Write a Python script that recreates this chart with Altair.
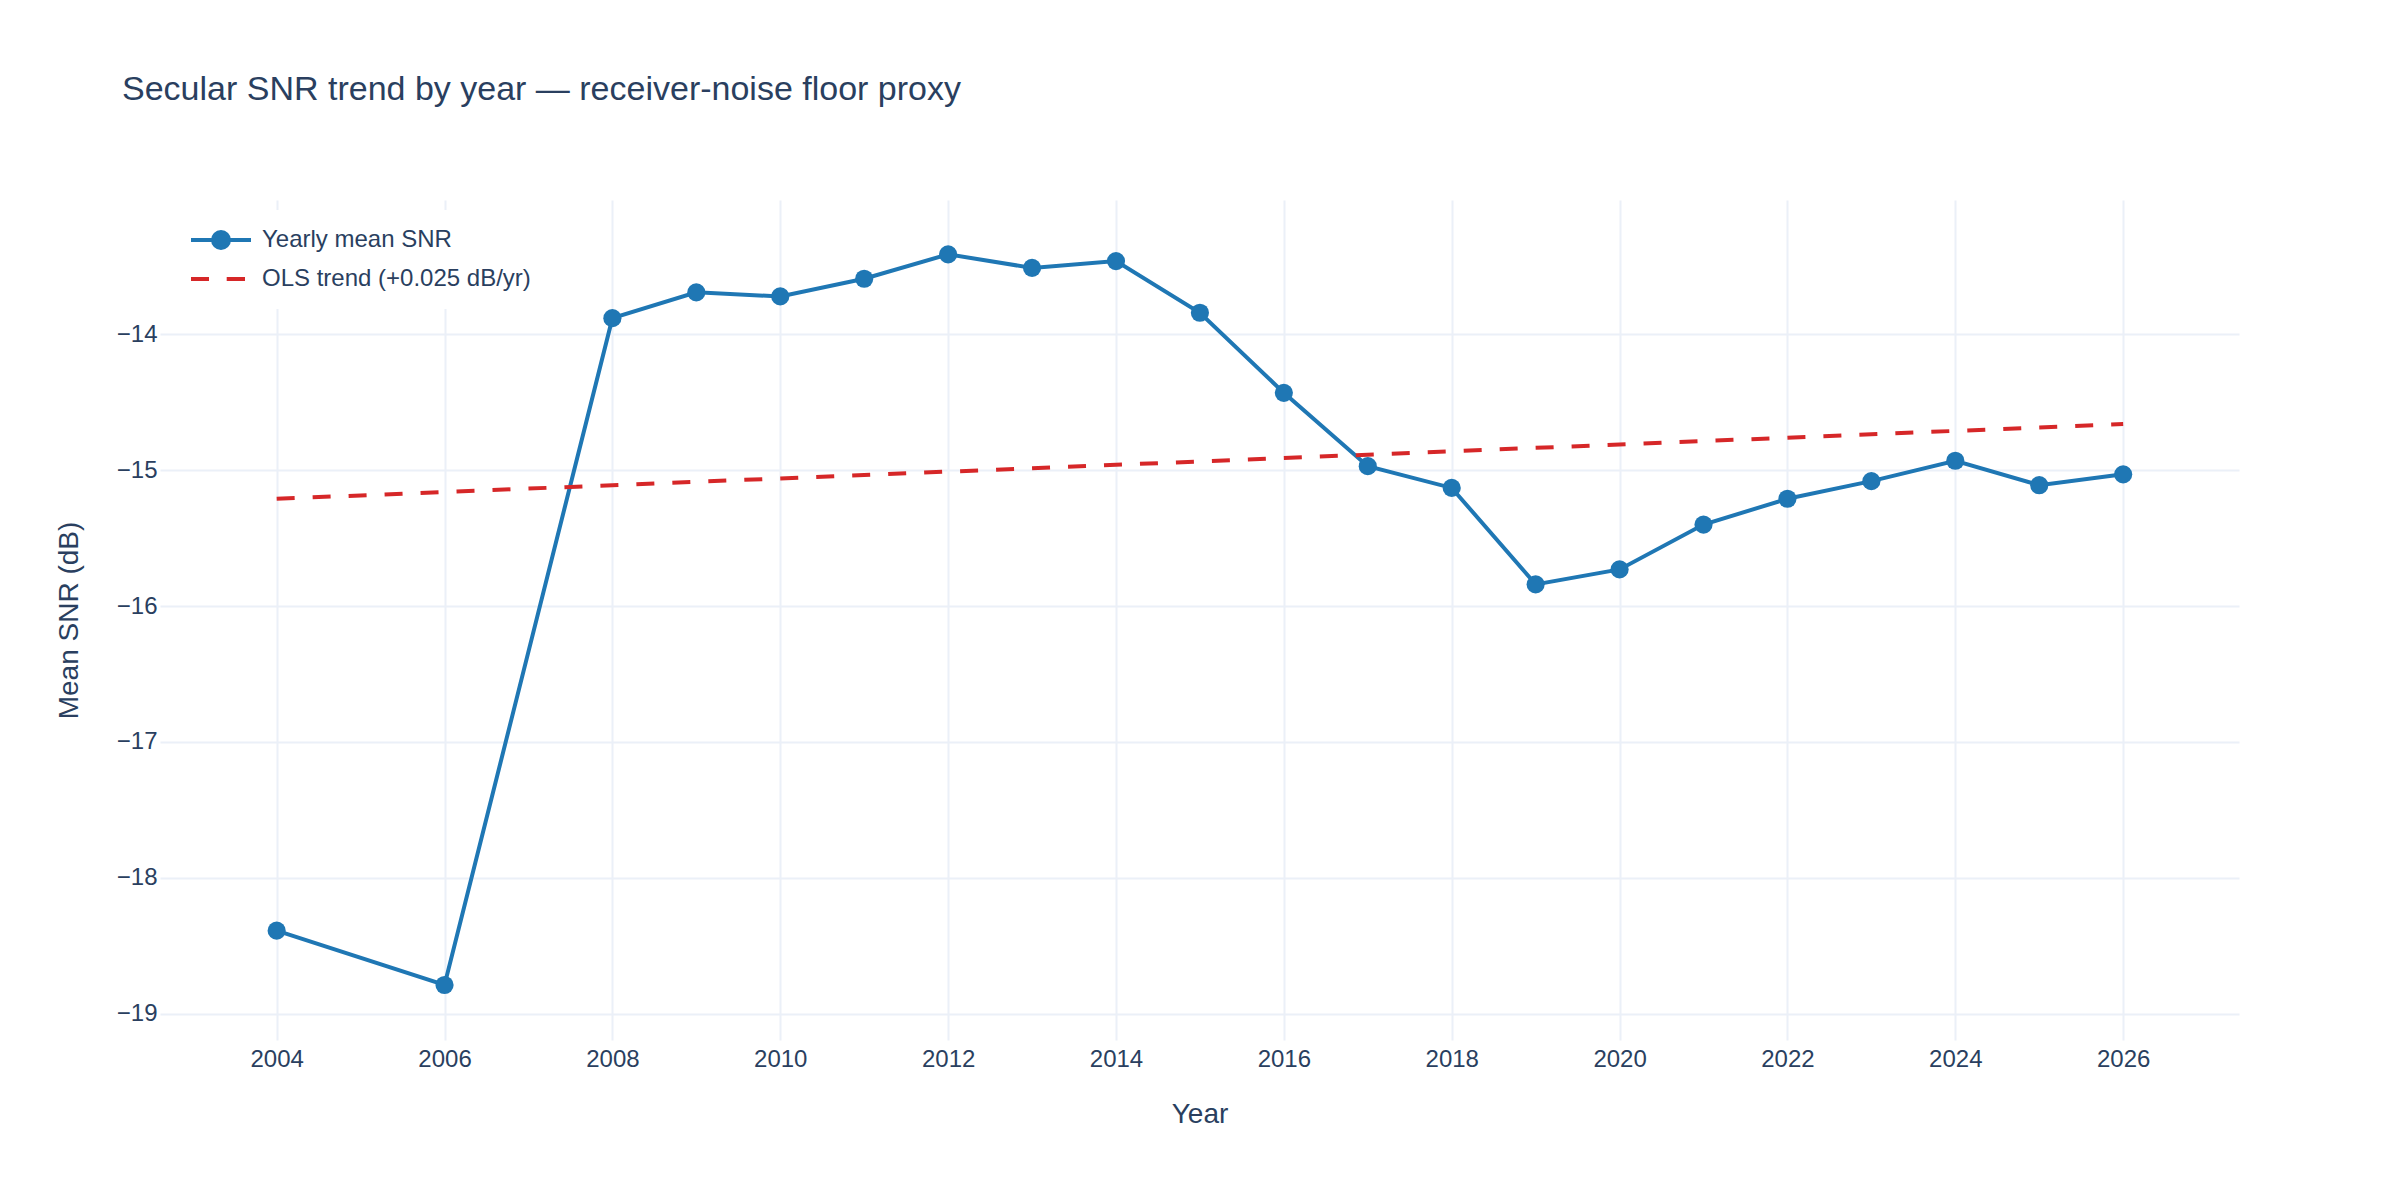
import altair as alt
import pandas as pd

# ---- data ----
years = [2004, 2006, 2008, 2009, 2010, 2011, 2012, 2013, 2014, 2015, 2016,
         2017, 2018, 2019, 2020, 2021, 2022, 2023, 2024, 2025, 2026]
snr = [-18.39, -18.79, -13.88, -13.69, -13.72, -13.59, -13.41, -13.51, -13.46,
       -13.84, -14.43, -14.97, -15.13, -15.84, -15.73, -15.40, -15.21, -15.08,
       -14.93, -15.11, -15.03]

trend_years = [2004, 2026]
trend_vals = [-15.21, -14.66]

series_names = ["Yearly mean SNR", "OLS trend (+0.025 dB/yr)"]
series_colors = ["#1f77b4", "#d62728"]
legend_paths = [
    "M-3,0L3,0M-0.8,0A0.8,0.8,0,1,1,0.8,0A0.8,0.8,0,1,1,-0.8,0Z",
    "M-3,0L-1.2,0M0.57,0L2.4,0",
]

x_ticks = list(range(2004, 2027, 2))
y_ticks = [-19, -18, -17, -16, -15, -14]

TEXT = "#2a3f5f"
GRID = "#EBF0F8"
FONT = "Liberation Sans"

W, H = 2079, 840

obs = pd.DataFrame({"Year": years, "SNR": snr})
trend = pd.DataFrame({"Year": trend_years, "SNR": trend_vals})
leg = pd.DataFrame({"series": series_names})

x_enc = alt.X(
    "Year:Q",
    scale=alt.Scale(domain=[2002.61, 2027.38], nice=False, zero=False),
    axis=alt.Axis(
        values=x_ticks, format="d", title="Year", grid=True, gridColor=GRID,
        gridWidth=2, domain=False, ticks=False, tickSize=0, labelPadding=7,
        labelFontSize=24, labelColor=TEXT, labelFont=FONT,
        titleFontSize=28, titleColor=TEXT, titleFont=FONT, titleFontWeight="normal",
        titleX=W / 2, titleY=82, titleAlign="center", titleBaseline="alphabetic",
    ),
)
y_enc = alt.Y(
    "SNR:Q",
    scale=alt.Scale(domain=[-19.195, -13.01], nice=False, zero=False),
    axis=alt.Axis(
        values=y_ticks, format="d", title="Mean SNR (dB)", grid=True, gridColor=GRID,
        gridWidth=2, domain=False, ticks=False, tickSize=0, labelPadding=3,
        labelFontSize=24, labelColor=TEXT, labelFont=FONT,
        titleFontSize=28, titleColor=TEXT, titleFont=FONT, titleFontWeight="normal",
        titleAngle=270, titleX=-83, titleY=H / 2, titleAlign="center",
        titleBaseline="alphabetic",
    ),
)

line = alt.Chart(obs).mark_line(color=series_colors[0], strokeWidth=4).encode(
    x=x_enc, y=y_enc
)
pts = alt.Chart(obs).mark_point(
    filled=True, opacity=1, size=330, color=series_colors[0]
).encode(x=x_enc, y=y_enc)
tr = alt.Chart(trend).mark_line(
    color=series_colors[1], strokeWidth=4, strokeDash=[18, 18]
).encode(x=x_enc, y=y_enc)

legend = alt.Legend(
    title=None, orient="none", legendX=21, legendY=10, fillColor="white",
    padding=18, rowPadding=11, symbolSize=400, symbolStrokeWidth=4,
    symbolOffset=10, labelOffset=29, labelFontSize=24, labelColor=TEXT,
    labelFont=FONT, labelLimit=800, labelBaseline="middle",
)
scale_col = alt.Scale(domain=series_names, range=series_colors)
scale_shape = alt.Scale(domain=series_names, range=legend_paths)

leg_layer = alt.Chart(leg).mark_point(filled=True, opacity=1).encode(
    fill=alt.Fill("series:N", scale=scale_col, legend=legend, sort=series_names),
    stroke=alt.Stroke("series:N", scale=scale_col, legend=legend, sort=series_names),
    shape=alt.Shape("series:N", scale=scale_shape, legend=legend, sort=series_names),
).transform_filter("false")

chart = alt.layer(line, pts, tr, leg_layer).properties(
    width=W,
    height=H,
    autosize=alt.AutoSizeParams(type="none"),
    padding={"left": 160, "top": 200, "right": 161, "bottom": 160},
    background="white",
    title=alt.TitleParams(
        text="Secular SNR trend by year — receiver-noise floor proxy",
        anchor="start", frame="group", dx=-38, offset=66, baseline="alphabetic",
        fontSize=34, font=FONT, color=TEXT, fontWeight="normal",
    ),
).configure_view(stroke=None)

chart.save("out.html", embed_options={"renderer": "svg", "actions": False})
